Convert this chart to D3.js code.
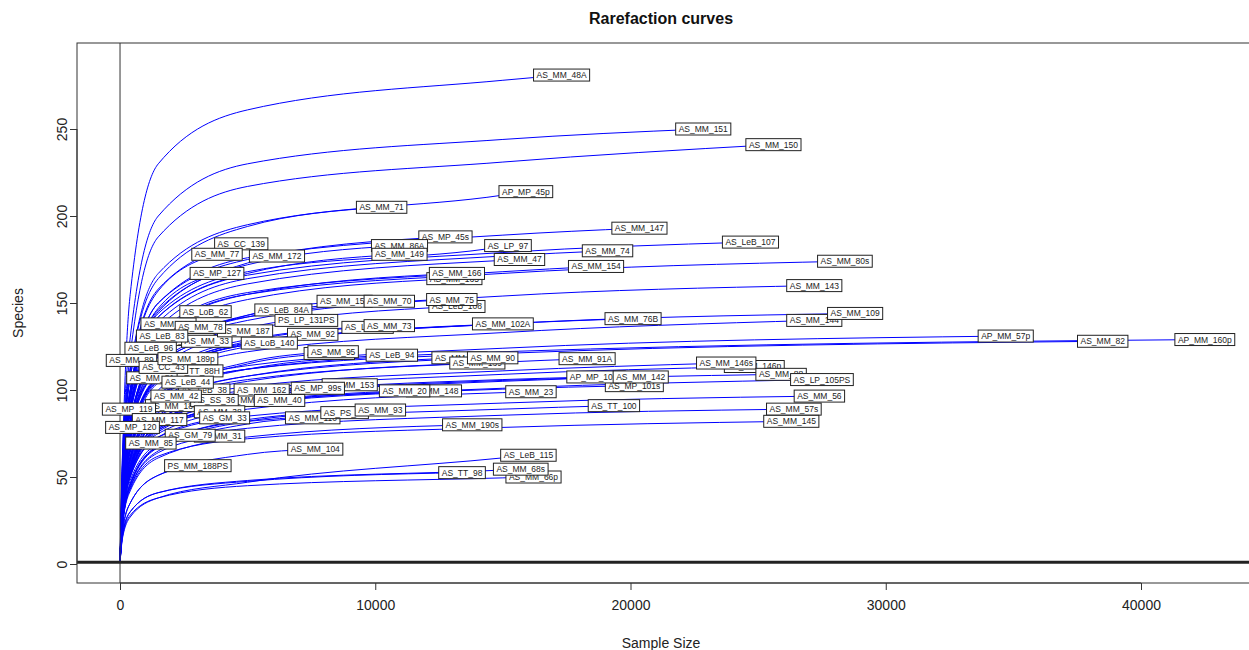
<!DOCTYPE html>
<html><head><meta charset="utf-8">
<script src="https://cdn.jsdelivr.net/npm/d3@7"></script>
<style>body{margin:0;background:#fff} svg{display:block} text{font-family:"Liberation Sans",Arial,Helvetica,sans-serif}</style>
</head><body><svg id="c" width="1249" height="650"></svg>
<script>
// ---- data ----
const depthGrid = [100, 400, 1500, 5000, 15000];
const sampleNames = [
 "AS_MM_165","AS_MM_159","AS_LeB_108","AS_LeB_72","AS_MM_96","AS_MM_141","AS_MM_139","AS_MM_146p",
 "AS_MP_101s","AS_MM_153","AS_MM_148","AS_MM_110","AS_PS_39","AS_MM_39","AS_MM_89","AS_LeB_38",
 "PS_MM_186PS","AS_MP_119","AS_MM_117","AS_TT_88H","AS_MM_30","AS_MM_33","AS_MM_105","AS_MM_31","AS_MM_66p",
 "AS_MM_48A","AS_MM_151","AS_MM_150","AP_MP_45p","AS_MM_71","AS_MP_45s","AS_MM_147","AS_MM_86A","AS_MM_149",
 "AS_LP_97","AS_LeB_107","AS_MM_74","AS_MM_47","AS_MM_154","AS_MM_80s","AS_CC_139","AS_MM_77","AS_MM_172",
 "AS_MP_127","AS_MM_166","AS_MM_143","AS_LoB_62","AS_LeB_84A","AS_MM_70","AS_MM_75","PS_LP_131PS","AS_MM_73",
 "AS_MM_102A","AS_MM_76B","AS_MM_144","AS_MM_109","AP_MM_57p","AS_MM_82","AP_MM_160p","AS_MM_92","AS_LoB_140",
 "AS_MM_187","AS_MM_78","AS_LeB_83","AS_LeB_96","AS_MM_95","AS_LeB_94","AS_MM_90","AS_MM_91A","AS_MM_146s",
 "AS_MM_88","AS_LP_105PS","AP_MP_101p","AS_MM_142","AS_MM_56","AS_TT_100","AS_MM_57s","AS_MM_145","AS_MM_190s",
 "AS_MM_23","AS_MM_20","AS_MP_99s","AS_MM_93","AS_MM_104","AS_MM_162","AS_MM_40","AS_SS_36","AS_MM_38",
 "AS_GM_33","AS_GM_79","AS_MM_85","AS_MP_120","AS_MM_42","AS_MM_81","AS_LeB_44","AS_CC_43","PS_MM_189p",
 "PS_MM_188PS","AS_LeB_115","AS_MM_68s","AS_TT_98"
];
const sampleSizes = [
 13100,8800,13200,9700,8200,13300,14000,24850,
 20150,9000,12300,7550,8800,4950,450,3300,
 2300,350,1550,3000,2700,3400,1900,3900,16200,
 17300,22850,25600,15900,10250,12750,20350,10950,10950,
 15200,24700,19100,15650,18650,28400,4750,3800,6150,
 3800,13200,27200,3350,6400,10550,13000,7300,10550,
 15000,20100,27200,28800,34700,38500,42500,7550,5850,
 4900,3150,1650,1200,8350,10650,14600,18300,23750,
 25900,27500,18650,20400,27400,19350,26400,26300,13800,
 16100,11150,7750,10200,7650,5550,6250,3700,3900,
 4100,2750,1210,490,2200,1250,2650,1700,2660,
 3050,16000,15700,13400
];
const finalSpecies = [
 164,151,148,136,121,118.5,115.5,113.5,
 102.5,103,99.5,84,87,94,117,100,
 91,89,83,111,129,128,138,73.5,50,
 281,250,241,214,205,188,193,183,178,
 183,185,180,175,171,174,184,178,177,
 167,167,160,145,146,151,152,140,137,
 138,141,140,144,131,128,129,132,127,
 134,136,131,124,122,120,118.5,118,115.5,
 109,106,107.5,107.5,96.5,91,89,82,80,
 99,99.5,101,88.5,66,100,94,94,87.5,
 84,74,69.5,78.5,96.5,107,104.5,113,118,
 56.5,62.5,54.5,52.5
];
// species observed at the depths of depthGrid that lie below each sample size
const speciesAtDepth = [
 [41,86,128,152],[40,83,121,143],[39,79,116,136],[37,74,107,128],[33,65,96,115],[32,62,91,108],[31,60,88,105],[31,58,85,100,109],
 [28,53,78,92,100.5],[28,54,80,97.5],[27,52,76,92],[24,44,65,80.5],[25,45,67,82],[26,51,79],[64,113],[28,60,89],
 [26,57,85],[58],[24,56,81.5],[31,68,100],[36,80,119],[35,77,114],[40,91,133],[22,44,64],[16,28,38,45,49.5],
 [62,155,230,261,278],[58,130,200,230,244],[55,120,188,217,231],[52,111,167,195,212],[50,111,164,194],[47,100,150,175],[47,100,150,176,189],[46,99,146,172],[45,96,142,167],
 [46,97,144,168,182.5],[46,95,142,166,179],[45,94,139,164,177],[44,92,136,161,174.5],[43,90,133,156,168],[43,89,132,155,167],[48,107,158],[47,107,157],[46,99,145,173],
 [45,100,147],[42,88,131,155],[40,82,121,142,154],[40,87,129],[39,82,120,143],[40,82,120,142],[40,81,119,140],[38,77,112,134],[37,74,108,129],
 [37,73,106,126],[37,73,107,126,138],[36,70,104,122,133],[37,72,107,127,138],[35,68,98,114,124],[34,66,96,112,121],[35,67,97,112,122],[36,72,106,127],[35,72,105,125],
 [36,78,115],[37,83,122],[40,89,129],[40,90],[33,66,96,116],[33,64,94,112],[32,62,91,108],[32,61,90,106,116],[31,59,87,102,111],
 [30,56,82,96,105],[29,55,80,93,101],[29,56,82,97,106],[29,56,82,96,105.5],[27,50,73,85,92.5],[26,48,69,82,89],[25,46,67,78,85.5],[24,43,62,72,78.5],[23,42,61,73],
 [27,51,75,89,98.5],[27,52,77,92.5],[28,53,80,97],[25,46,68,83],[20,35,51,63],[28,54,83,99],[26,51,78,92],[27,56,83],[25,52,77],
 [24,50,73],[22,46,68],[22,51],[47,76],[27,60,92],[31,80],[30,65,96],[33,77,111],[33,73,108],
 [18,35,51],[15,27,38,47,61],[17,30,41,48,54],[17,30,41,47.5]
];
const xTicks = [0, 10000, 20000, 30000, 40000];
const yTicks = [0, 50, 100, 150, 200, 250];
const refSample = 1;      // rarefied at sample = 1 (vertical / horizontal reference lines)
const titleText = "Rarefaction curves";
const xLabel = "Sample Size";
const yLabel = "Species";

// ---- drawing ----
const svg = d3.select("#c");
const box = {left: 77, top: 43, right: 1262, bottom: 583};
const x = d3.scaleLinear().domain([0, 40000]).range([120, 1141]);
const y = d3.scaleLinear().domain([0, 250]).range([564, 129]);

svg.append("clipPath").attr("id","clip").append("rect")
  .attr("x", box.left).attr("y", box.top).attr("width", box.right-box.left).attr("height", box.bottom-box.top);

const g = svg.append("g").attr("clip-path","url(#clip)");

const samples = sampleNames.map((name, i) => {
  const pts = [[refSample, refSample]];
  speciesAtDepth[i].forEach((s, k) => pts.push([depthGrid[k], s]));
  pts.push([sampleSizes[i], finalSpecies[i]]);
  return {name, N: sampleSizes[i], S: finalSpecies[i], pts};
});

const line = d3.line().x(d => x(d[0])).y(d => y(d[1])).curve(d3.curveMonotoneX);
g.selectAll("path.curve").data(samples).join("path")
  .attr("class","curve").attr("d", d => line(d.pts))
  .attr("fill","none").attr("stroke","#0000ff").attr("stroke-width",1);

// reference lines
g.append("line").attr("x1", x(refSample)).attr("x2", x(refSample)).attr("y1", box.top).attr("y2", box.bottom)
  .attr("stroke","#333").attr("stroke-width",1);
g.append("line").attr("x1", box.left).attr("x2", box.right).attr("y1", y(refSample)).attr("y2", y(refSample))
  .attr("stroke","#222").attr("stroke-width",2.8);

// labels
const lab = g.selectAll("g.lab").data(samples).join("g").attr("class","lab")
  .attr("transform", d => `translate(${x(d.N)},${y(d.S)})`);
lab.each(function(d){
  const el = d3.select(this);
  const rect = el.append("rect");
  const t = el.append("text").text(d.name).attr("text-anchor","middle").attr("dy","0.35em")
    .attr("font-size", 8.5).attr("fill","#222");
  const w = t.node().getComputedTextLength();
  rect.attr("x", -w/2-3).attr("y", -6).attr("width", w+6).attr("height", 12)
    .attr("fill","#fff").attr("stroke","#222").attr("stroke-width",1);
});

// box
svg.append("rect").attr("x", box.left).attr("y", box.top).attr("width", box.right-box.left).attr("height", box.bottom-box.top)
  .attr("fill","none").attr("stroke","#333").attr("stroke-width",1);

// axes
const xa = svg.append("g").attr("transform", `translate(0,${box.bottom})`)
  .call(d3.axisBottom(x).tickValues(xTicks).tickSize(7).tickPadding(10).tickFormat(d3.format("d")));
xa.select(".domain").attr("d", `M${x(xTicks[0])},0H${x(xTicks[xTicks.length-1])}`).attr("stroke","#333");
xa.selectAll("text").attr("font-size", 14).attr("fill","#222").attr("font-family","Liberation Sans, Arial, sans-serif");
xa.selectAll("line").attr("stroke","#333");

const ya = svg.append("g").attr("transform", `translate(${box.left},0)`)
  .call(d3.axisLeft(y).tickValues(yTicks).tickSize(7).tickFormat(d3.format("d")));
ya.select(".domain").attr("d", `M0,${y(yTicks[0])}V${y(yTicks[yTicks.length-1])}`).attr("stroke","#333");
ya.selectAll("line").attr("stroke","#333");
ya.selectAll(".tick text").attr("x", null).attr("y", null).attr("dy", null)
  .attr("font-size", 14).attr("fill","#222").attr("font-family","Liberation Sans, Arial, sans-serif")
  .attr("transform", "translate(-10,0) rotate(-90)").attr("text-anchor","middle");

// titles
svg.append("text").attr("x", 661).attr("y", 24).attr("text-anchor","middle")
  .attr("font-size", 16).attr("font-weight","bold").attr("fill","#111").text(titleText);
svg.append("text").attr("x", 661).attr("y", 648).attr("text-anchor","middle")
  .attr("font-size", 14).attr("fill","#222").text(xLabel);
svg.append("text").attr("transform", "translate(23,313) rotate(-90)").attr("text-anchor","middle")
  .attr("font-size", 14).attr("fill","#222").text(yLabel);
</script></body></html>
